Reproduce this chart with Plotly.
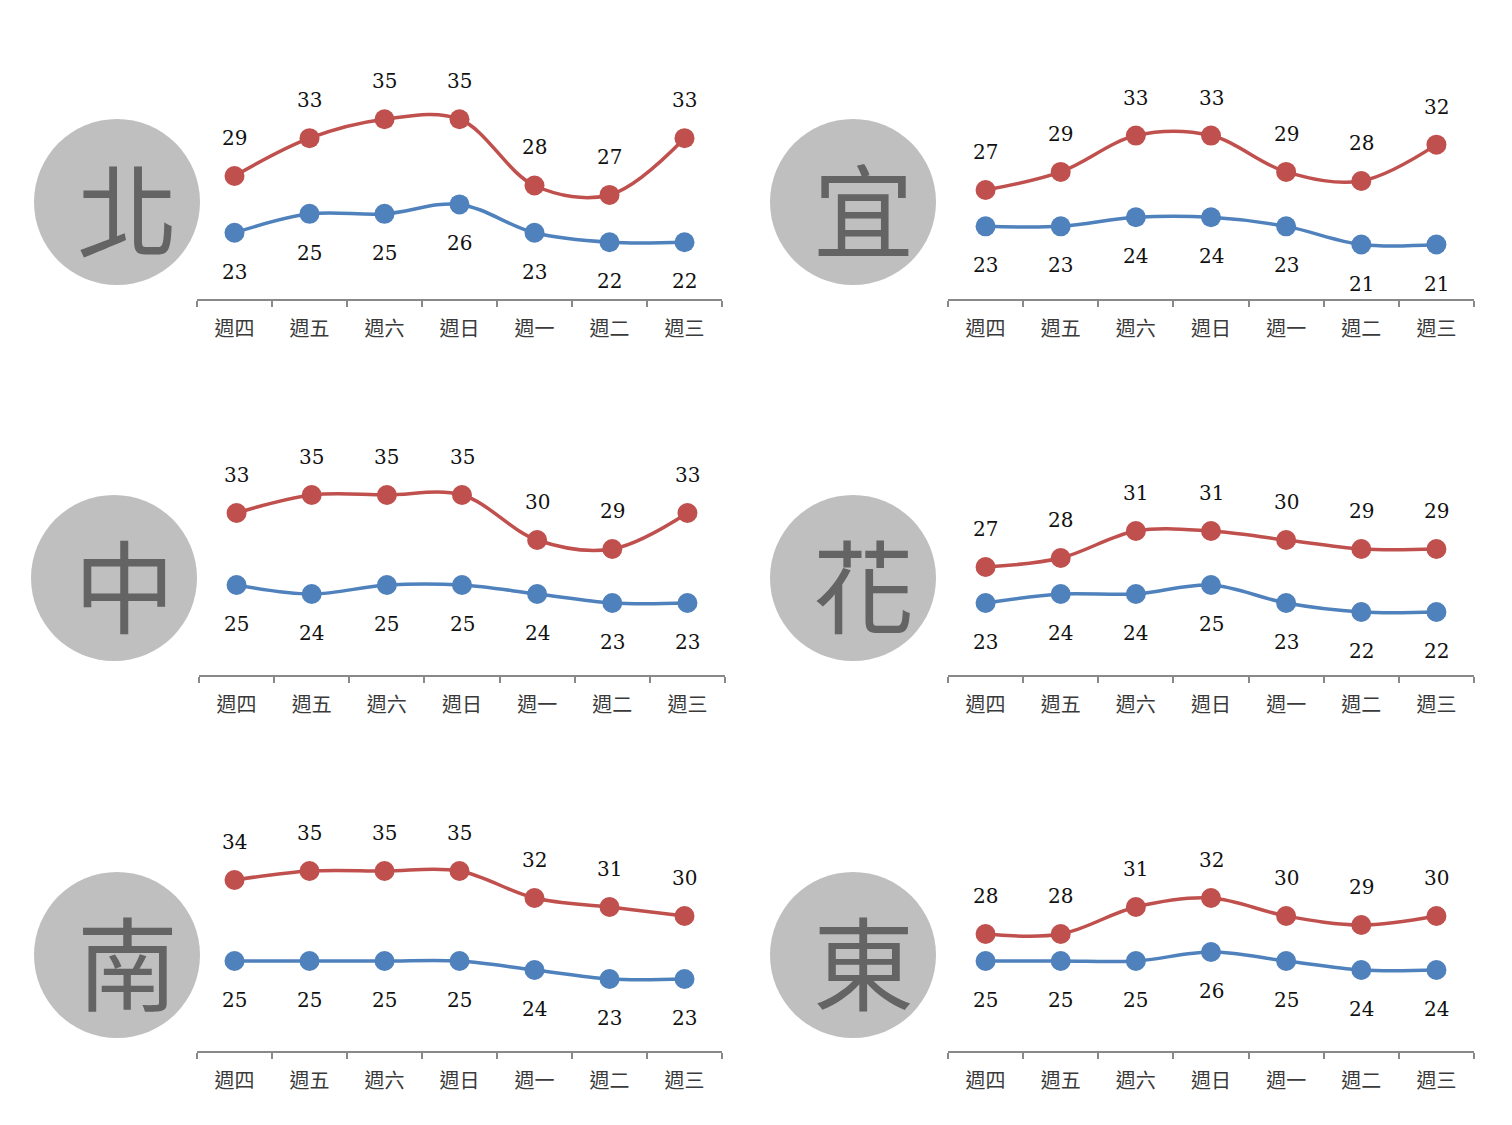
import plotly.graph_objects as go

W, H = 1512, 1125

days = ["週四", "週五", "週六", "週日", "週一", "週二", "週三"]
cities = ["北", "宜", "中", "花", "南", "東"]

hi_north = [29, 33, 35, 35, 28, 27, 33]
lo_north = [23, 25, 25, 26, 23, 22, 22]
hi_yilan = [27, 29, 33, 33, 29, 28, 32]
lo_yilan = [23, 23, 24, 24, 23, 21, 21]
hi_central = [33, 35, 35, 35, 30, 29, 33]
lo_central = [25, 24, 25, 25, 24, 23, 23]
hi_hualien = [27, 28, 31, 31, 30, 29, 29]
lo_hualien = [23, 24, 24, 25, 23, 22, 22]
hi_south = [34, 35, 35, 35, 32, 31, 30]
lo_south = [25, 25, 25, 25, 24, 23, 23]
hi_east = [28, 28, 31, 32, 30, 29, 30]
lo_east = [25, 25, 25, 26, 25, 24, 24]

highs = [hi_north, hi_yilan, hi_central, hi_hualien, hi_south, hi_east]
lows = [lo_north, lo_yilan, lo_central, lo_hualien, lo_south, lo_east]

RED = "#C0504D"
BLUE = "#4F81BD"

# layout geometry in pixels: (x_left, x_right, axis_y, px_per_unit, ymin, circle_cx, circle_cy)
panels = [
    (197, 722, 299, 9.46, 16, 117, 202),
    (948, 1474, 299, 9.08, 15, 853, 202),
    (199, 725, 675, 9.0, 15, 114, 578),
    (948, 1474, 675, 9.0, 15, 853, 578),
    (197, 722, 1051, 9.0, 15, 117, 955),
    (948, 1474, 1051, 9.0, 15, 853, 955),
]
YMAX = 40
R = 83

fig = go.Figure()
layout = dict(
    width=W, height=H, margin=dict(l=0, r=0, t=0, b=0),
    paper_bgcolor="white", plot_bgcolor="rgba(0,0,0,0)",
    showlegend=False,
)
shapes = []
annotations = []

for i, (xl, xr, ay, ppu, ymin, cx, cy) in enumerate(panels):
    n = i + 1
    xa = "x" if n == 1 else f"x{n}"
    ya = "y" if n == 1 else f"y{n}"
    top_px = ay - (YMAX - ymin) * ppu
    layout["xaxis" if n == 1 else f"xaxis{n}"] = dict(
        domain=[xl / W, xr / W], anchor=ya, type="category",
        categoryorder="array", categoryarray=days,
        range=[-0.5, 6.5], showline=True, linecolor="#898989", linewidth=1.5,
        ticks="outside", tickson="boundaries", ticklen=6, tickcolor="#898989",
        tickwidth=1.5, showgrid=False, zeroline=False,
        tickfont=dict(family="DejaVu Serif, Noto Sans CJK TC", size=20, color="#3a3a3a"),
        ticklabelstandoff=11, fixedrange=True,
    )
    layout["yaxis" if n == 1 else f"yaxis{n}"] = dict(
        domain=[1 - ay / H, 1 - top_px / H], anchor=xa, range=[ymin, YMAX],
        visible=False, showgrid=False, zeroline=False, fixedrange=True,
    )
    for vals, col, shift in ((highs[i], RED, 38), (lows[i], BLUE, -39)):
        fig.add_trace(go.Scatter(
            x=days, y=vals, xaxis=xa, yaxis=ya, mode="lines+markers",
            line=dict(color=col, width=3.5, shape="spline", smoothing=1),
            marker=dict(color=col, size=20),
            hoverinfo="skip",
        ))
        for d, v in zip(days, vals):
            annotations.append(dict(
                x=d, y=v, xref=xa, yref=ya, text=str(v), showarrow=False,
                yshift=shift, xanchor="center", yanchor="middle",
                font=dict(family="DejaVu Serif, serif", size=20, color="#111111"),
            ))
    shapes.append(dict(
        type="circle", xref="paper", yref="paper",
        x0=(cx - R) / W, x1=(cx + R) / W, y0=1 - (cy + R) / H, y1=1 - (cy - R) / H,
        fillcolor="#BFBFBF", line=dict(width=0), layer="below",
    ))
    annotations.append(dict(
        x=(cx + 10) / W, y=1 - (cy + 4) / H, xref="paper", yref="paper",
        text=cities[i], showarrow=False, xanchor="center", yanchor="middle",
        font=dict(family="Noto Sans CJK TC", size=101, color="#646464"),
    ))

layout["shapes"] = shapes
layout["annotations"] = annotations
fig.update_layout(**layout)

fig.write_html("out.html", config={"displayModeBar": False},
               post_script="document.body.style.margin='0';")
